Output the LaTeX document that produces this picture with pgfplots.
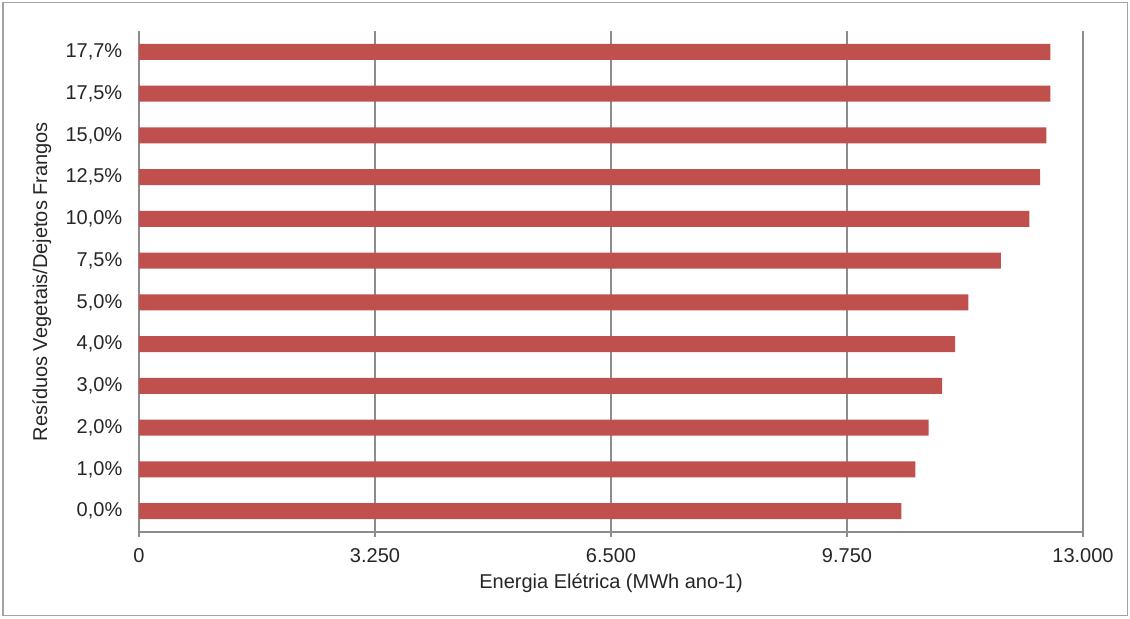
\documentclass[border=0pt]{standalone}
\usepackage{pgfplots}
\pgfplotsset{compat=1.18}
\usepackage{fontspec}
\setmainfont{Liberation Sans}
\definecolor{barred}{HTML}{C0504D}
\definecolor{gridc}{HTML}{8C8C8C}
\begin{document}
\begin{tikzpicture}
\useasboundingbox (-104.25pt,-64.5pt) rectangle (743.25pt,399pt);
\draw[gridc!80, line width=0.8pt] (-102pt,-62.5pt) rectangle (741.5pt,397pt);
\begin{axis}[
  at={(0,0)}, anchor=south west,
  scale only axis, width=708pt, height=375.75pt,
  xbar, bar width=12pt,
  xmin=0, xmax=13000,
  ymin=-0.5, ymax=11.5,
  ytick={0,...,11},
  yticklabels={0{,}0\%,1{,}0\%,2{,}0\%,3{,}0\%,4{,}0\%,5{,}0\%,7{,}5\%,10{,}0\%,12{,}5\%,15{,}0\%,17{,}5\%,17{,}7\%},
  xtick={0,3250,6500,9750,13000},
  xticklabels={0,3.250,6.500,9.750,13.000},
  scaled x ticks=false,
  axis x line*=bottom, axis y line*=left,
  axis line style={gridc, line width=0.8pt, -},
  xmajorgrids, grid style={gridc, line width=0.8pt},
  major x tick style={gridc, line width=0.8pt},
  x tick style={gridc}, y tick style={draw=none},
  tick align=outside, major tick length=4pt,
  ticklabel style={font=\fontsize{15}{17}\selectfont, text=black!85},
  xticklabel style={yshift=-4.5pt},
  yticklabel style={xshift=-5pt},
  xlabel={Energia Elétrica (MWh ano-1)},
  ylabel={Resíduos Vegetais/Dejetos Frangos},
  label style={font=\fontsize{15}{17}\selectfont, text=black!85},
  xlabel style={at={(axis description cs:0.5,-0.1018)}, anchor=center},
  ylabel style={at={(axis description cs:-0.1028,0.5)}, anchor=center},
]
\addplot[fill=barred, draw=none] coordinates {
(10500,0) (10690,1) (10875,2) (11060,3) (11240,4) (11420,5)
(11870,6) (12260,7) (12410,8) (12495,9) (12550,10) (12550,11)};
\end{axis}
\end{tikzpicture}
\end{document}
